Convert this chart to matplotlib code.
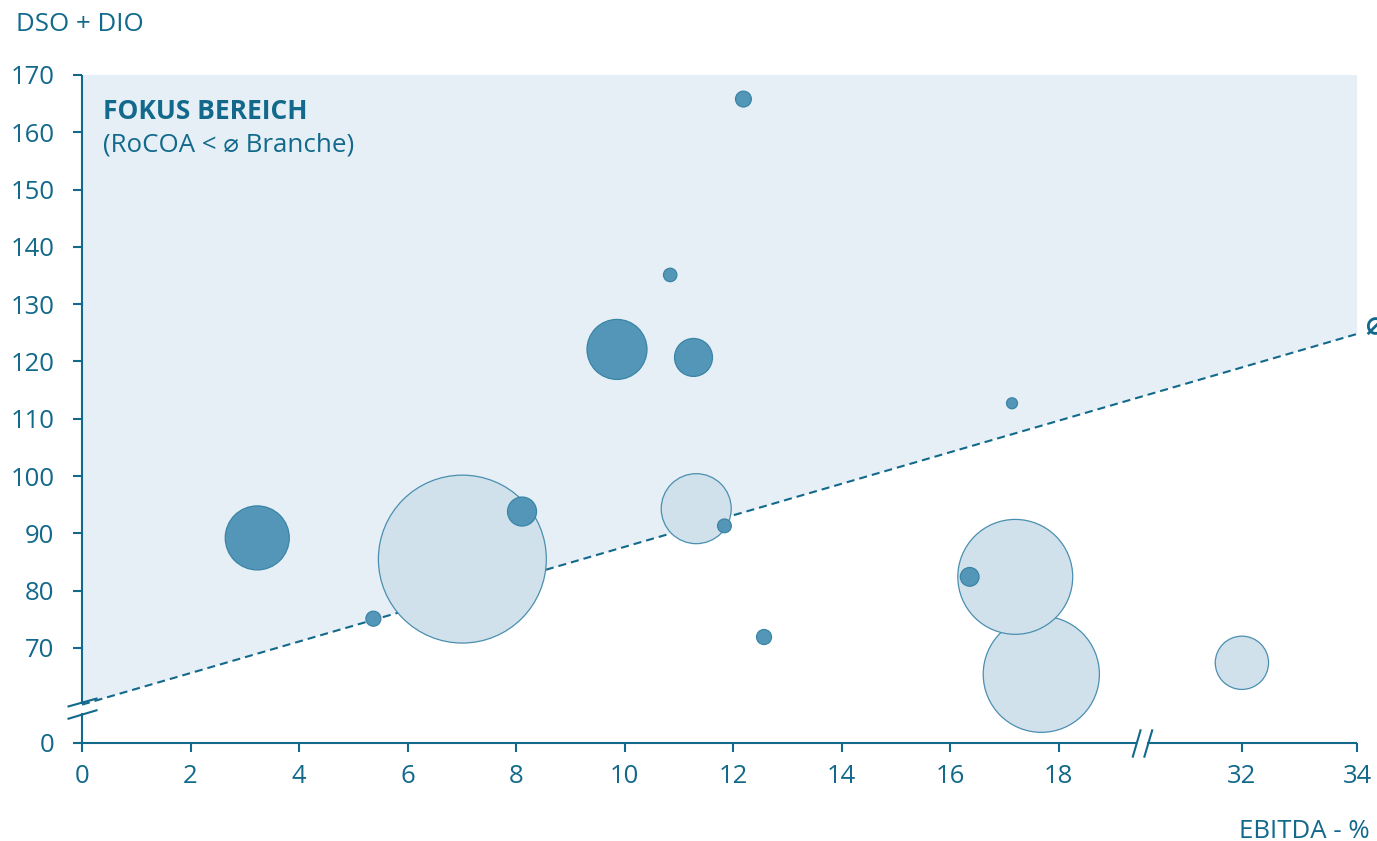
import numpy as np
import matplotlib

matplotlib.use("Agg")
import matplotlib.pyplot as plt
from matplotlib.path import Path

plt.rcParams["font.family"] = ["Open Sans", "DejaVu Sans"]
plt.rcParams["lines.scale_dashes"] = False

# bubble data: EBITDA-% (x), DSO+DIO (y), bubble size (relative area)
focus_x = [3.23, 5.37, 8.11, 9.86, 10.84, 11.27, 11.84, 12.19, 12.57, 16.36, 17.14]
focus_y = [89.2, 75.1, 93.8, 122.1, 135.1, 120.7, 91.3, 165.8, 71.9, 82.4, 112.7]
focus_size = [41.0, 2.25, 8.4, 36.0, 1.8, 14.4, 1.9, 2.5, 2.25, 3.5, 1.2]

other_x = [17.68, 7.01, 11.32, 17.20, 32.0]
other_y = [65.4, 85.5, 94.3, 82.4, 67.4]
other_size = [135.0, 282.0, 49.0, 132.0, 28.4]

# benchmark line (industry average RoCOA)
bench_x = [0, 34]
bench_y = [60.1, 124.8]

x_ticks = [0, 2, 4, 6, 8, 10, 12, 14, 16, 18, 32, 34]
y_ticks = [0, 70, 80, 90, 100, 110, 120, 130, 140, 150, 160, 170]

C_TEXT = "#12698b"
C_DARK = "#5396b8"
C_DARK_EDGE = "#3a84a6"
C_LIGHT = "#d0e1eb"
C_LIGHT_EDGE = "#4a8fb0"
C_AREA = "#e6eff5"

# broken axes via piecewise scales
XB_LO, XB_HI, XK = 19.5, 30.23, 1.0605
YB, YC = 59.5, 6.1


def fx(x):
    x = np.asarray(x, dtype=float)
    return np.where(x <= XB_LO, x,
                    np.where(x >= XB_HI, XB_LO + (x - XB_HI) * XK, XB_LO))


def ifx(u):
    u = np.asarray(u, dtype=float)
    return np.where(u <= XB_LO, u, XB_HI + (u - XB_LO) / XK)


def fy(y):
    y = np.asarray(y, dtype=float)
    return np.where(y >= YB, y, YB - YC + y * YC / YB)


def ify(v):
    v = np.asarray(v, dtype=float)
    return np.where(v >= YB, v, (v - YB + YC) * YB / YC)


W, H = 1377, 841
fig = plt.figure(figsize=(W / 100, H / 100), dpi=100)
ax = fig.add_axes([82 / W, (H - 743) / H, 1275 / W, 668 / H])
ax.set_xscale("function", functions=(fx, ifx))
ax.set_yscale("function", functions=(fy, ify))
ax.set_xlim(0, 34)
ax.set_ylim(0, 170)
for s in ax.spines.values():
    s.set_visible(False)

# focus area above benchmark
ax.fill([bench_x[0], bench_x[1], bench_x[1], bench_x[0]],
        [bench_y[0], bench_y[1], 170, 170],
        color=C_AREA, lw=0, zorder=0)
ax.plot(bench_x, bench_y, color=C_TEXT, lw=1.5, dashes=(5.8, 3.6), zorder=1)

k = 0.72 ** 2 * 100
ax.scatter(other_x, other_y, s=np.array(other_size) * k, color=C_LIGHT,
           edgecolors=C_LIGHT_EDGE, linewidths=0.9, zorder=2)
ax.scatter(focus_x, focus_y, s=np.array(focus_size) * k, color=C_DARK,
           edgecolors=C_DARK_EDGE, linewidths=0.9, zorder=3)

# axis lines with gaps
sp = dict(color=C_TEXT, lw=1.5, clip_on=False, zorder=4, solid_capstyle="butt")
y_gap_top = 70 - (704 - 648) / 5.729
y_gap_bot = float(ify(70 - (713 - 648) / 5.729))
ax.plot([0, 0], [y_gap_top, 170], **sp)
ax.plot([0, 0], [0, y_gap_bot], **sp)
x_gap_l = (1136 - 82) / 54.26
x_gap_r = float(ifx((1147 - 82) / 54.26))
ax.plot([0, x_gap_l], [0, 0], **sp)
ax.plot([x_gap_r, 34], [0, 0], **sp)

# break marks
mv, mc = Path.MOVETO, Path.LINETO
ybreak = Path([(-15, 1.8), (15, 10.2), (-15, -10.5), (15, -1.5)], [mv, mc, mv, mc])
xbreak = Path([(-10, -14.2), (-1.7, 14.2), (1.6, -14.2), (10, 14.2)], [mv, mc, mv, mc])
ax.plot([0], [float(ify(59.44))], marker=ybreak, markersize=21.6, mfc="none",
        mec=C_TEXT, mew=1.5, ls="none", clip_on=False, zorder=5)
ax.plot([float(ifx(19.53))], [0], marker=xbreak, markersize=20.4, mfc="none",
        mec=C_TEXT, mew=1.5, ls="none", clip_on=False, zorder=5)

ax.set_xticks(x_ticks)
ax.set_xticklabels([str(t) for t in x_ticks])
ax.set_yticks(y_ticks)
ax.set_yticklabels([str(t) for t in y_ticks])
ax.xaxis.set_minor_locator(matplotlib.ticker.NullLocator())
ax.yaxis.set_minor_locator(matplotlib.ticker.NullLocator())
ax.tick_params(axis="both", colors=C_TEXT, labelsize=18.5, length=6.8, width=1.5)
ax.tick_params(axis="y", pad=13)
ax.tick_params(axis="x", pad=8)

ax.text(0.38, 162.3, "FOKUS BEREICH", color=C_TEXT, fontsize=19,
        fontweight="bold", va="baseline", ha="left")
ax.text(0.38, 156.6, "(RoCOA < \u2300 Branche)", color=C_TEXT, fontsize=18.6,
        va="baseline", ha="left")
ax.text(34, bench_y[1] + 1.5, " \u2300", color=C_TEXT, fontsize=24, fontweight="bold",
        va="center", ha="left", clip_on=False)

fig.text(16 / W, 1 - 30.7 / H, "DSO + DIO", color=C_TEXT, fontsize=18.6,
         va="baseline", ha="left")
fig.text(1370 / W, 1 - 838 / H, "EBITDA - %", color=C_TEXT, fontsize=18.6,
         va="baseline", ha="right")

fig.savefig("out.png", dpi=100)
